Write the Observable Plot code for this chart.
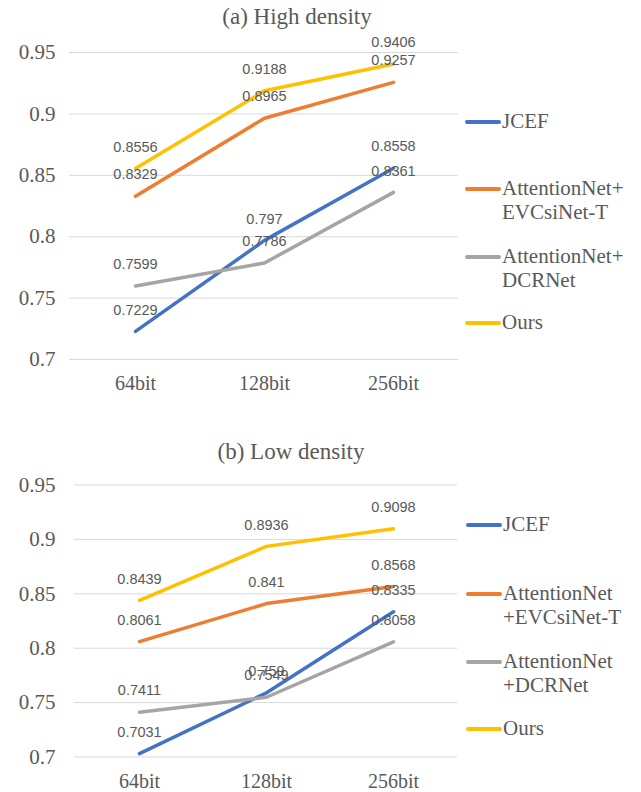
<!DOCTYPE html>
<html><head><meta charset="utf-8">
<script src="https://cdn.jsdelivr.net/npm/d3@7"></script>
<script src="https://cdn.jsdelivr.net/npm/@observablehq/plot@0.6"></script>
<style>
body{margin:0;background:#fff;}
#root{position:relative;width:641px;height:792px;overflow:hidden;font-family:"Liberation Serif","Times New Roman",serif;color:#595959;}
.title{position:absolute;font-family:"Liberation Serif","Times New Roman",serif;font-size:23px;transform:translate(-50%,-50%);white-space:nowrap;}
.leg{position:absolute;font-family:"Liberation Serif","Times New Roman",serif;font-size:21px;line-height:24px;white-space:nowrap;}
.sw{position:absolute;width:36px;height:4px;border-radius:2px;}
.panel{position:absolute;left:0;}
.panel text{font-family:"Liberation Serif","Times New Roman",serif;}
.panel g.lbl text{font-family:"Liberation Sans",Arial,sans-serif;}
</style></head><body><div id="root"></div>
<script>
const categories = ["64bit", "128bit", "256bit"];
const seriesNames = ["JCEF", "AttentionNet+EVCsiNet-T", "AttentionNet+DCRNet", "Ours"];
const colors = ["#4472C4", "#ED7D31", "#A5A5A5", "#FFC000"];

const highJCEF = [0.7229, 0.797, 0.8558];
const highEVCsiNet = [0.8329, 0.8965, 0.9257];
const highDCRNet = [0.7599, 0.7786, 0.8361];
const highOurs = [0.8556, 0.9188, 0.9406];

const lowJCEF = [0.7031, 0.759, 0.8335];
const lowEVCsiNet = [0.8061, 0.841, 0.8568];
const lowDCRNet = [0.7411, 0.7549, 0.8058];
const lowOurs = [0.8439, 0.8936, 0.9098];

const yTicks = [0.7, 0.75, 0.8, 0.85, 0.9, 0.95];
const yTickLabels = ["0.7", "0.75", "0.8", "0.85", "0.9", "0.95"];

const titleHigh = "(a) High density";
const titleLow = "(b) Low density";
const legendHigh = [["JCEF"], ["AttentionNet+", "EVCsiNet-T"], ["AttentionNet+", "DCRNet"], ["Ours"]];
const legendLow = [["JCEF"], ["AttentionNet", "+EVCsiNet-T"], ["AttentionNet", "+DCRNet"], ["Ours"]];

function table(seriesArrays) {
  const rows = [];
  seriesArrays.forEach((vals, s) => {
    vals.forEach((v, i) => rows.push({series: seriesNames[s], cat: categories[i], value: v}));
  });
  return rows;
}

const SERIF = "'Liberation Serif','Times New Roman',serif";
const SANS = "'Liberation Sans',Arial,sans-serif";

function panel(rows, o) {
  return Plot.plot({
    width: o.width, height: o.height,
    marginLeft: o.ml, marginRight: 0, marginTop: o.mt, marginBottom: o.mb,
    x: {type: "point", domain: categories, padding: 0.5, label: null},
    y: {domain: [0.7, 0.95], label: null},
    color: {domain: seriesNames, range: colors},
    style: {fontFamily: SERIF, fontSize: "20px", color: "#595959", background: "transparent", overflow: "visible"},
    marks: [
      Plot.ruleY(yTicks, {stroke: "#D9D9D9", strokeWidth: 1}),
      Plot.axisY({ticks: yTicks, tickFormat: d => yTickLabels[yTicks.indexOf(d)], tickSize: 0, tickPadding: o.typ, fontSize: 21, fontFamily: SERIF, label: null}),
      Plot.axisX({tickSize: 0, tickPadding: o.txp, fontSize: 20, fontFamily: SERIF, label: null}),
      Plot.line(rows, {x: "cat", y: "value", z: "series", stroke: "series", strokeWidth: 3.5, strokeLinecap: "round", strokeLinejoin: "round"}),
      Plot.text(rows, {x: "cat", y: "value", text: d => String(d.value), dy: -21.5, fontFamily: SANS, fontSize: 14.5, fill: "#595959", className: "lbl"})
    ]
  });
}

const root = document.getElementById("root");

function addPanel(rows, top, o, title, tx, ty, legend, legY, swX) {
  const p = panel(rows, o);
  p.classList.add("panel");
  p.style.top = top + "px";
  root.appendChild(p);
  const t = document.createElement("div");
  t.className = "title";
  t.textContent = title;
  t.style.left = tx + "px";
  t.style.top = ty + "px";
  root.appendChild(t);
  legend.forEach((lines, i) => {
    const sw = document.createElement("div");
    sw.className = "sw";
    sw.style.background = colors[i];
    sw.style.left = swX + "px";
    sw.style.top = (legY[i] - 2) + "px";
    root.appendChild(sw);
    const l = document.createElement("div");
    l.className = "leg";
    l.innerHTML = lines.map(s => s.replace(/&/g, "&amp;").replace(/</g, "&lt;")).join("<br>");
    l.style.left = (swX + 37) + "px";
    l.style.top = (legY[i] - 13) + "px";
    root.appendChild(l);
  });
}

addPanel(table([highJCEF, highEVCsiNet, highDCRNet, highOurs]), 0,
  {width: 458, height: 400, ml: 69, mt: 52, mb: 41, typ: 14, txp: 16},
  titleHigh, 297, 17, legendHigh, [122, 189, 257, 323], 465);

addPanel(table([lowJCEF, lowEVCsiNet, lowDCRNet, lowOurs]), 400,
  {width: 457, height: 392, ml: 74, mt: 84.5, mb: 35.5, typ: 19, txp: 17},
  titleLow, 291, 452, legendLow, [525, 594, 662, 729], 466);
</script>
</body></html>
